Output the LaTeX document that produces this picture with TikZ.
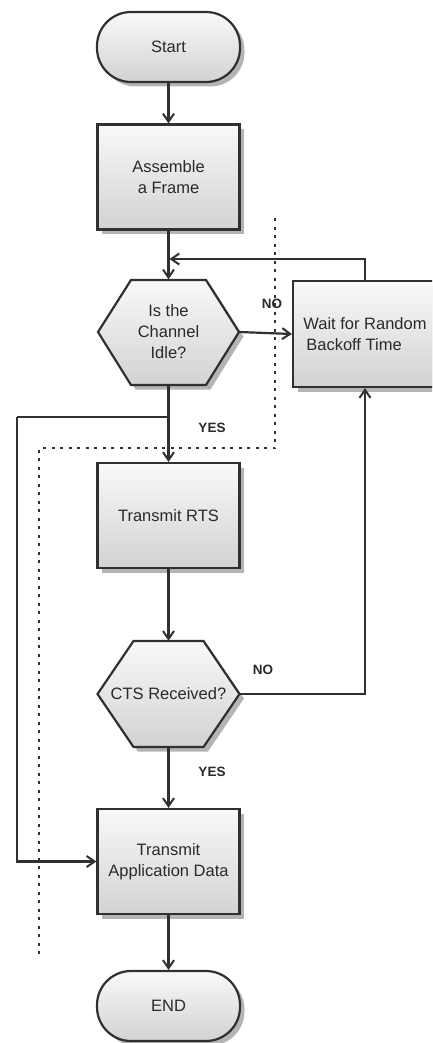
\documentclass[tikz,border=0pt]{standalone}
\usepackage{fontspec}
\setmainfont{Liberation Sans}
\usetikzlibrary{arrows.meta,shadows,calc}
\definecolor{edge}{HTML}{303030}
\definecolor{txt}{HTML}{2A2A2A}
\tikzset{
  boxstyle/.style={draw=edge, line width=2.2pt, top color=gray!5, bottom color=gray!35,
     drop shadow={shadow xshift=4.5pt, shadow yshift=-4.5pt, fill=gray!65, opacity=0.9},
     text=txt, align=center, font=\fontsize{16.5}{21}\selectfont, inner sep=0pt},
  termstyle/.style={boxstyle, rounded corners=34pt},
  hexholder/.style={inner sep=0pt, text=txt, align=center, font=\fontsize{16.5}{21}\selectfont},
  hexpath/.style={draw=edge, line width=2.2pt, top color=gray!5, bottom color=gray!35,
     drop shadow={shadow xshift=4.5pt, shadow yshift=-4.5pt, fill=gray!65, opacity=0.9}},
  conn/.style={draw=edge, line width=2.2pt, -{Straight Barb[length=8pt,width=11pt,line width=2pt]}},
  plain/.style={draw=edge, line width=2.2pt},
  lbl/.style={text=txt, font=\bfseries\fontsize{13.5}{15}\selectfont},
  dotline/.style={draw=edge, line width=2.4pt, dash pattern=on 3pt off 5.5pt}
}
\begin{document}
\begin{tikzpicture}[x=1pt,y=-1pt]
\useasboundingbox (0,0) rectangle (432,1043);
\begin{scope}
\clip (0,0) rectangle (432,1043);
% dotted boundary
\draw[dotline] (275,218) -- (275,448) -- (39,448) -- (39,958);

% nodes
\node[termstyle, minimum width=143pt, minimum height=70pt] (start) at (168.5,47) {Start};
\node[boxstyle, minimum width=142pt, minimum height=105pt] (assemble) at (168.5,177) {Assemble\\a Frame};

% hexagon 1
\path[hexpath] (98,332) -- (131,280) -- (206,280) -- (239,332) -- (206,385) -- (131,385) -- cycle;
\node[hexholder, minimum width=141pt, minimum height=105pt] (idle) at (168.5,332) {Is the\\Channel\\Idle?};

\node[boxstyle, minimum width=144pt, minimum height=106pt] (wait) at (365,334) {Wait for Random\\Backoff Time\hspace*{22pt}};

\node[boxstyle, minimum width=142pt, minimum height=105pt] (rts) at (168.5,515.5) {Transmit RTS};

% hexagon 2
\path[hexpath] (97.5,694) -- (133.5,641) -- (203.5,641) -- (239.5,694) -- (203.5,747) -- (133.5,747) -- cycle;
\node[hexholder, minimum width=142pt, minimum height=106pt] (cts) at (168.5,694) {CTS Received?};

\node[boxstyle, minimum width=142pt, minimum height=105pt] (tad) at (168.5,861.5) {Transmit\\Application Data};
\node[termstyle, minimum width=143pt, minimum height=70pt] (end) at (168.5,1006) {END};

% coordinates
\coordinate (merge) at (169.5,259);
\coordinate (br) at (168.5,417);
\coordinate (lc) at (17,417);

% connectors
\draw[conn] (start.south) -- (start.south |- assemble.north);
\draw[conn] (assemble.south) -- (assemble.south |- idle.north);
\draw[conn] (wait.north) |- (merge);
\draw[conn] (idle.east) -- (wait.west);
\draw[conn] (idle.south) -- (idle.south |- rts.north);
\draw[plain] (br) -- (lc);
\draw[conn] (lc) |- (tad.west);
\draw[conn] (rts.south) -- (rts.south |- cts.north);
\draw[conn] (cts.east) -| (wait.south);
\draw[conn] (cts.south) -- (cts.south |- tad.north);
\draw[conn] (tad.south) -- (tad.south |- end.north);

% labels
\node[lbl] (no1) at (272,304) {NO};
\node[lbl] (yes1) at (212,428) {YES};
\node[lbl] (no2) at (263,670) {NO};
\node[lbl] (yes2) at (212,772) {YES};
\end{scope}
\end{tikzpicture}
\end{document}
